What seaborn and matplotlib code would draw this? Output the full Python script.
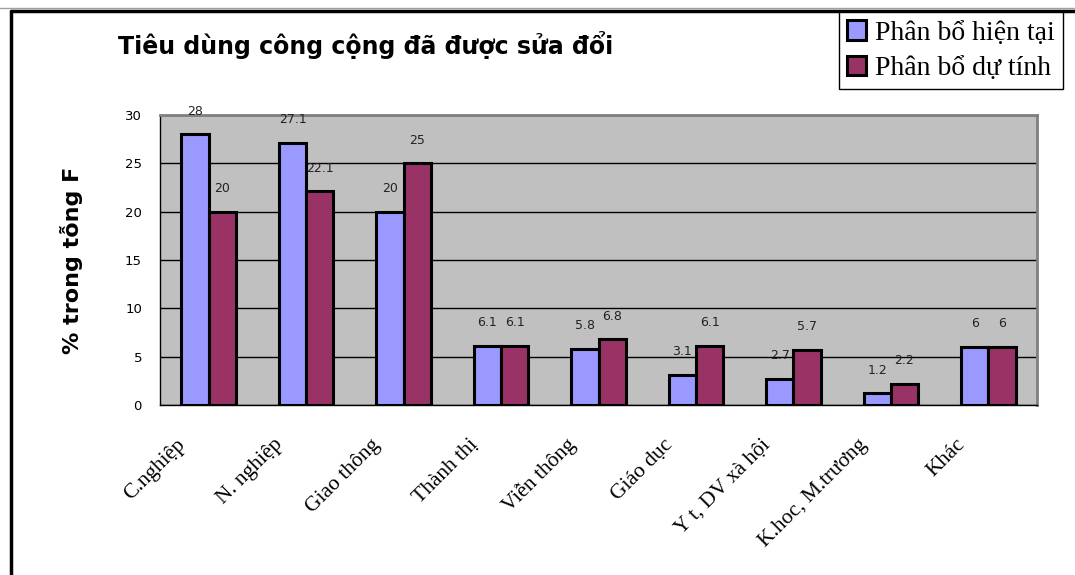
import pandas as pd
import matplotlib.pyplot as plt
import matplotlib.transforms as mtransforms
from matplotlib.lines import Line2D
import seaborn as sns

# Data
categories = ['C.nghiệp', 'N. nghiệp', 'Giao thông', 'Thành thị', 'Viễn thông',
              'Giáo dục', 'Y t, DV xà hội', 'K.hoc, M.trương', 'Khác']
current = [28, 27.1, 20, 6.1, 5.8, 3.1, 2.7, 1.2, 6]
projected = [20, 22.1, 25, 6.1, 6.8, 6.1, 5.7, 2.2, 6]
series_names = ['Phân bổ hiện tại', 'Phân bổ dự tính']
y_ticks = [0, 5, 10, 15, 20, 25, 30]

df = pd.DataFrame({
    'category': categories * 2,
    'value': current + projected,
    'series': [series_names[0]] * len(categories) + [series_names[1]] * len(categories),
})

sns.set_style('white')
plt.rcParams['font.family'] = ['DejaVu Sans']
plt.rcParams['text.color'] = 'black'
plt.rcParams['axes.labelcolor'] = 'black'
plt.rcParams['xtick.color'] = 'black'
plt.rcParams['ytick.color'] = 'black'

fig = plt.figure(figsize=(10.75, 5.75), dpi=100)
ax = fig.add_axes([160 / 1075, 1 - 405 / 575, (1037 - 160) / 1075, (405 - 115) / 575])

sns.barplot(data=df, x='category', y='value', hue='series',
            palette=['#9999FF', '#993366'], width=0.56,
            edgecolor='black', linewidth=2.2, saturation=1, ax=ax)

ax.set_facecolor('#C0C0C0')
ax.set_ylim(0, 30)
ax.set_xlim(-0.5, len(categories) - 0.5)
ax.set_yticks(y_ticks)
ax.yaxis.grid(True, color='black', linewidth=1)
ax.set_axisbelow(True)

# value labels
for cont in ax.containers:
    ax.bar_label(cont, labels=[f'{v:g}' for v in cont.datavalues],
                 padding=12, fontsize=9, color='#222222')

# spines
for side in ['top', 'right']:
    ax.spines[side].set_color('#808080')
    ax.spines[side].set_linewidth(2)
for side in ['left', 'bottom']:
    ax.spines[side].set_color('black')
    ax.spines[side].set_linewidth(1)

# x ticks: marks at category boundaries, labels at centers
ax.set_xticks(range(len(categories)))
ax.set_xticks([i - 0.5 for i in range(len(categories) + 1)], minor=True)
ax.tick_params(axis='x', which='major', length=0, pad=0)
ax.tick_params(axis='x', which='minor', length=6, width=1, color='black', direction='out')
ax.tick_params(axis='y', length=5, width=1, color='black', direction='out',
               labelsize=9.5, pad=8)
ax.set_xticklabels(categories, rotation=45, ha='right', va='center',
                   rotation_mode='anchor', fontsize=15.5, family='Liberation Serif')
offset = mtransforms.ScaledTranslation(-0.26, -0.37, fig.dpi_scale_trans)
for lbl in ax.get_xticklabels():
    lbl.set_transform(lbl.get_transform() + offset)

ax.set_xlabel('')
ax.set_ylabel('% trong tỗng F', fontsize=16, fontweight='bold', labelpad=30)

# legend at top right of the figure
handles, labels = ax.get_legend_handles_labels()
ax.get_legend().remove()
leg = fig.legend(handles, labels, loc='upper right',
                 bbox_to_anchor=(1063 / 1075, 1 - 12 / 575),
                 prop={'family': 'Liberation Serif', 'size': 20},
                 frameon=True, fancybox=False, framealpha=1,
                 edgecolor='black', handlelength=0.7, handleheight=0.7,
                 handletextpad=0.3, borderpad=0.3, labelspacing=0.35,
                 borderaxespad=0)
leg.get_frame().set_linewidth(1)

fig.text(118 / 1075, 1 - 45 / 575, 'Tiêu dùng công cộng đã được sửa đổi',
         fontsize=17, fontweight='bold', ha='left', va='center', color='black')

# slide frame lines
fig.add_artist(Line2D([0, 1], [1 - 8 / 575, 1 - 8 / 575], transform=fig.transFigure,
                      color='#A0A0A0', linewidth=1))
fig.add_artist(Line2D([11 / 1075, 1], [1 - 11 / 575, 1 - 11 / 575],
                      transform=fig.transFigure, color='black', linewidth=2.5))
fig.add_artist(Line2D([11 / 1075, 11 / 1075], [0, 1 - 11 / 575],
                      transform=fig.transFigure, color='black', linewidth=2.5))

fig.savefig('out.png', dpi=100, facecolor='white')
